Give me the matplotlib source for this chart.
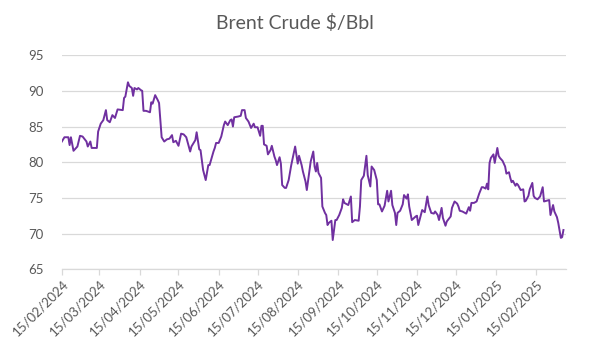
import pandas as pd
import matplotlib
matplotlib.use("Agg")
import matplotlib.pyplot as plt
import matplotlib.dates as mdates

# days after 15/02/2024 and the Brent close for that day ($/bbl)
day = [0, 2, 5, 6, 7, 9, 12, 14, 16, 19, 20, 22, 23, 27, 28, 30, 32, 34, 35, 37,
       39, 41, 43, 47, 48, 49, 51, 52, 54, 55, 56, 58, 59, 61, 62, 63, 65, 68, 69, 70,
       72, 74, 75, 77, 79, 81, 83, 85, 86, 88, 90, 92, 94, 96, 99, 100, 103, 104, 106, 107,
       109, 111, 113, 114, 117, 118, 119, 121, 123, 125, 126, 128, 130, 131, 132, 133, 136, 138, 139, 141,
       142, 144, 146, 148, 149, 151, 153, 154, 155, 156, 158, 159, 161, 162, 164, 165, 166, 168, 169, 170,
       172, 173, 175, 177, 180, 182, 183, 185, 186, 188, 189, 191, 192, 194, 195, 196, 197, 198, 200, 201,
       203, 204, 205, 206, 208, 209, 211, 212, 214, 216, 217, 218, 221, 223, 224, 226, 229, 230, 231, 233,
       235, 236, 238, 239, 241, 243, 244, 245, 247, 249, 251, 252, 254, 255, 257, 258, 259, 261, 263, 264,
       266, 267, 268, 270, 273, 274, 275, 277, 278, 280, 282, 283, 285, 287, 288, 290, 291, 293, 294, 296,
       297, 300, 301, 303, 305, 306, 307, 309, 311, 312, 314, 315, 316, 318, 320, 322, 324, 325, 327, 328,
       329, 330, 331, 333, 334, 336, 337, 338, 340, 342, 343, 345, 346, 347, 348, 350, 351, 352, 354, 356,
       357, 358, 360, 361, 363, 364, 365, 367, 369, 371, 372, 374, 376, 377, 379, 380, 382, 383, 385, 386,
       387]
price = [82.9, 83.5, 83.5, 82.4, 83.5, 81.6, 82.2, 83.7, 83.6, 82.9, 82.2, 82.9, 82.0, 82.0, 84.3, 85.4, 85.9, 87.3, 85.9, 85.6,
         86.6, 86.2, 87.4, 87.3, 89.0, 89.2, 91.2, 90.7, 90.4, 89.3, 90.4, 90.2, 90.4, 90.1, 90.0, 87.2, 87.2, 87.0, 88.4, 88.2,
         89.4, 88.7, 88.3, 83.5, 82.9, 83.2, 83.3, 83.8, 82.8, 83.0, 82.3, 84.0, 83.9, 83.5, 81.5, 82.2, 83.1, 84.2, 81.8, 81.7,
         78.9, 77.5, 79.6, 79.6, 81.5, 82.0, 82.7, 82.7, 83.6, 85.2, 85.7, 85.2, 85.9, 86.0, 85.0, 86.3, 86.4, 86.5, 87.3, 87.3,
         86.2, 85.7, 84.8, 85.4, 84.9, 84.9, 83.7, 85.1, 85.1, 82.5, 82.3, 81.1, 81.7, 82.3, 80.8, 80.3, 79.6, 80.7, 79.8, 76.8,
         76.4, 76.4, 77.5, 79.6, 82.2, 79.8, 80.9, 79.6, 78.7, 77.3, 76.1, 78.7, 80.1, 81.5, 79.4, 78.7, 79.9, 78.5, 77.8, 73.8,
         72.9, 72.6, 71.2, 71.5, 71.8, 69.1, 71.9, 71.9, 72.6, 73.6, 74.8, 74.3, 74.0, 75.2, 71.6, 71.9, 71.8, 73.8, 77.5, 78.1,
         80.9, 78.2, 76.6, 79.4, 78.9, 77.5, 74.1, 74.1, 73.1, 73.9, 76.0, 74.5, 76.0, 74.0, 72.9, 71.2, 72.9, 73.2, 74.1, 75.4,
         74.9, 75.5, 73.8, 71.9, 72.4, 72.5, 71.2, 72.6, 73.3, 73.0, 75.2, 74.0, 72.9, 72.8, 73.1, 72.6, 71.9, 73.6, 72.2, 71.1,
         71.7, 72.4, 73.6, 74.5, 74.2, 73.8, 73.2, 73.1, 72.9, 72.8, 73.7, 73.2, 74.3, 74.3, 74.5, 75.6, 76.5, 76.5, 76.3, 77.0,
         76.2, 79.9, 80.6, 81.1, 79.9, 82.0, 80.9, 80.6, 80.2, 79.4, 78.4, 78.6, 77.8, 77.2, 77.4, 76.7, 77.0, 76.8, 76.1, 76.2,
         74.5, 74.6, 75.3, 76.2, 77.1, 75.3, 75.0, 74.8, 75.2, 76.5, 74.5, 74.6, 74.7, 72.6, 74.0, 73.1, 72.3, 71.5, 69.4, 69.5,
         70.5]

dates = pd.Timestamp("2024-02-15") + pd.to_timedelta(day, unit="D")

grey = "#595959"
fig = plt.figure(figsize=(5.89, 3.47), dpi=100)
ax = fig.add_axes([0.105, 0.224, 0.856, 0.617])

ax.plot(dates, price, color="#7030A0", linewidth=1.4, solid_joinstyle="round")

ax.set_ylim(65, 95)
ax.set_yticks(range(65, 96, 5))
ax.set_xlim(dates[0], pd.Timestamp("2024-02-15") + pd.Timedelta(days=389))
ax.xaxis.set_major_locator(mdates.MonthLocator(bymonthday=15))
ax.xaxis.set_major_formatter(mdates.DateFormatter("%d/%m/%Y"))

ax.grid(axis="y", color="#d9d9d9", linewidth=0.9)
ax.set_axisbelow(True)
for side in ["left", "right", "top"]:
    ax.spines[side].set_visible(False)
ax.spines["bottom"].set_color("#d9d9d9")
ax.spines["bottom"].set_linewidth(0.9)

ax.tick_params(axis="y", length=0, pad=13, labelsize=9.5, labelcolor=grey)
ax.tick_params(axis="x", length=4, width=0.9, color="#d9d9d9", pad=2,
               labelsize=9.5, labelcolor=grey)
for lbl in ax.get_xticklabels():
    lbl.set_rotation(45)
    lbl.set_ha("right")
    lbl.set_rotation_mode("anchor")
for lbl in ax.get_xticklabels() + ax.get_yticklabels():
    lbl.set_fontfamily("Lato")

fig.text(0.5, 0.935, "Brent Crude $/Bbl", ha="center", va="center",
         fontsize=14, color=grey, fontfamily="Lato")

fig.savefig("out.png", dpi=100)
